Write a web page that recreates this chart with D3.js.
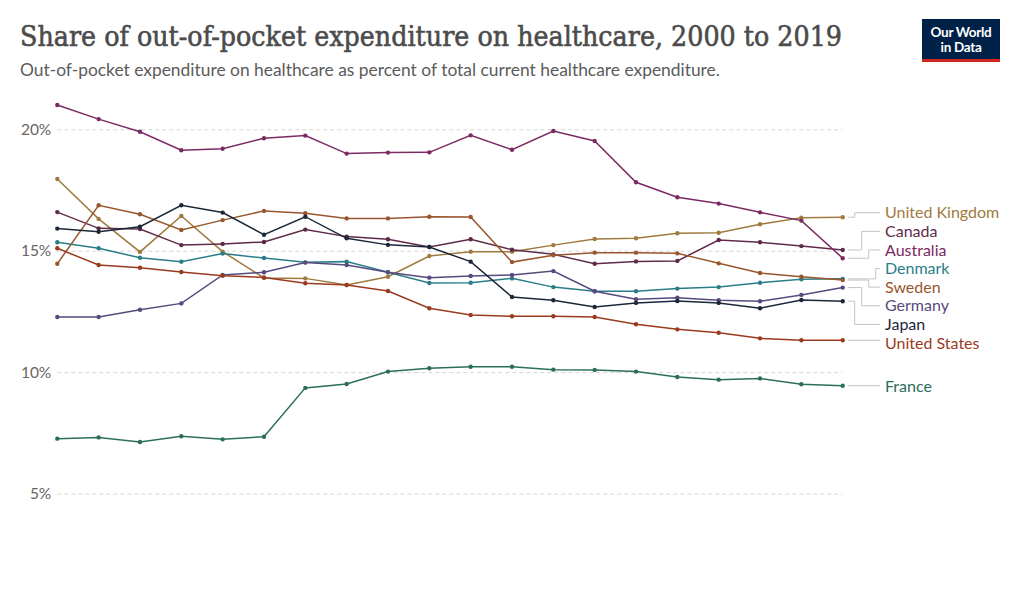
<!DOCTYPE html>
<html>
<head>
<meta charset="utf-8">
<script src="https://cdn.jsdelivr.net/npm/d3@7"></script>
<style>
  body { margin: 0; background: #fff; }
  svg { font-family: Lato, "Noto Sans", sans-serif; }
</style>
</head>
<body>
<div class="box"></div>
<script>
// DATA
const years = [2000, 2001, 2002, 2003, 2004, 2005, 2006, 2007, 2008, 2009,
               2010, 2011, 2012, 2013, 2014, 2015, 2016, 2017, 2018, 2019];

const countries = ['United Kingdom', 'Canada', 'Australia', 'Denmark', 'Sweden',
                   'Germany', 'Japan', 'United States', 'France'];

const unitedKingdom = [17.95, 16.31, 14.95, 16.43, 14.96, 13.88, 13.86, 13.59, 13.93, 14.78,
                       14.96, 14.96, 15.23, 15.48, 15.51, 15.72, 15.74, 16.09, 16.36, 16.38];
const canada = [16.59, 15.92, 15.89, 15.23, 15.28, 15.36, 15.87, 15.58, 15.47, 15.15,
                15.47, 15.04, 14.85, 14.46, 14.56, 14.58, 15.44, 15.35, 15.19, 15.03];
const australia = [21.0, 20.42, 19.90, 19.14, 19.20, 19.63, 19.74, 19.00, 19.04, 19.05,
                   19.75, 19.16, 19.93, 19.52, 17.82, 17.20, 16.94, 16.58, 16.24, 14.69];
const denmark = [15.35, 15.10, 14.71, 14.55, 14.88, 14.70, 14.52, 14.55, 14.11, 13.67,
                 13.68, 13.86, 13.50, 13.33, 13.33, 13.44, 13.50, 13.68, 13.82, 13.84];
const sweden = [14.46, 16.87, 16.50, 15.85, 16.26, 16.64, 16.54, 16.33, 16.33, 16.40,
                16.39, 14.53, 14.81, 14.92, 14.92, 14.89, 14.48, 14.08, 13.93, 13.79];
const germany = [12.27, 12.27, 12.57, 12.83, 14.00, 14.11, 14.51, 14.41, 14.11, 13.89,
                 13.96, 14.00, 14.16, 13.33, 13.00, 13.06, 12.96, 12.92, 13.18, 13.48];
const japan = [15.91, 15.78, 15.99, 16.87, 16.57, 15.66, 16.40, 15.51, 15.24, 15.15,
               14.55, 13.09, 12.96, 12.68, 12.85, 12.93, 12.85, 12.63, 12.97, 12.92];
const unitedStates = [15.10, 14.41, 14.30, 14.12, 13.97, 13.90, 13.66, 13.59, 13.34, 12.63,
                      12.35, 12.30, 12.30, 12.27, 11.97, 11.76, 11.62, 11.39, 11.31, 11.31];
const france = [7.26, 7.31, 7.12, 7.36, 7.23, 7.34, 9.35, 9.51, 10.02, 10.16,
                10.22, 10.22, 10.10, 10.09, 10.02, 9.80, 9.69, 9.74, 9.50, 9.44];

const yTicks = [5, 10, 15, 20];

// colours per country (same order as countries)
const colors = ['#a07a3e', '#5e2a48', '#7c2a62', '#2a7d88', '#98562c',
                '#564a7e', '#1c2739', '#9a3b1e', '#2b6e5d'];

const values = [unitedKingdom, canada, australia, denmark, sweden,
                germany, japan, unitedStates, france];

const series = countries.map((name, i) => ({
  name: name,
  color: colors[i],
  points: years.map((yr, j) => ({year: yr, value: values[i][j]}))
}));

// SETUP
const width = 1020, height = 600;
const svg = d3.select('.box')
              .append('svg')
              .attr('width', width)
              .attr('height', height);

const x = d3.scaleLinear()
            .domain([2000, 2019])
            .range([57.3, 842.7]);

const y = d3.scaleLinear()
            .domain([5, 20])
            .range([493.5, 129.3]);

// title + subtitle
svg.append('text')
   .attr('x', 20)
   .attr('y', 46)
   .attr('textLength', 822)
   .attr('lengthAdjust', 'spacingAndGlyphs')
   .style('font-family', '"DejaVu Serif", "Liberation Serif", serif')
   .style('font-size', '27px')
   .style('fill', '#4b4b4b')
   .style('stroke', '#4b4b4b')
   .style('stroke-width', 0.6)
   .text('Share of out-of-pocket expenditure on healthcare, 2000 to 2019');

svg.append('text')
   .attr('x', 20)
   .attr('y', 76)
   .style('font-size', '17.4px')
   .style('fill', '#5b5b5b')
   .text('Out-of-pocket expenditure on healthcare as percent of total current healthcare expenditure.');

// logo
const logo = svg.append('g');
logo.append('rect')
    .attr('x', 922).attr('y', 19)
    .attr('width', 78).attr('height', 43)
    .attr('fill', '#002147');
logo.append('rect')
    .attr('x', 922).attr('y', 59)
    .attr('width', 78).attr('height', 3)
    .attr('fill', '#ce261e');
logo.selectAll('text.logo')
    .data(['Our World', 'in Data'])
    .enter()
    .append('text')
    .attr('class', 'logo')
    .attr('x', 961)
    .attr('y', (d, i) => 37 + i * 15)
    .attr('text-anchor', 'middle')
    .style('font-size', '13.5px')
    .style('font-weight', 700)
    .style('letter-spacing', '-0.3px')
    .style('fill', '#fff')
    .text(d => d);

// y axis with dashed grid lines
const axisY = d3.axisLeft(y)
                .tickValues(yTicks)
                .tickFormat(d => d + '%')
                .tickSize(-(x.range()[1] - x.range()[0]))
                .tickPadding(6);

const groupY = svg.append('g')
                  .attr('transform', `translate(${x.range()[0]}, 0)`)
                  .call(axisY);
groupY.select('.domain').remove();
groupY.selectAll('line')
      .attr('stroke', '#d6d6d6')
      .attr('stroke-dasharray', '4,3');
groupY.selectAll('text')
      .style('font-family', 'Lato, sans-serif')
      .style('font-size', '15.5px')
      .style('fill', '#666');

// lines
const line = d3.line()
               .x(d => x(d.year))
               .y(d => y(d.value));

const lines = svg.append('g');
const country = lines.selectAll('g')
                     .data(series)
                     .enter()
                     .append('g');

country.append('path')
       .attr('d', d => line(d.points))
       .attr('fill', 'none')
       .attr('stroke', d => d.color)
       .attr('stroke-width', 1.5);

country.selectAll('circle')
       .data(d => d.points.map(p => ({...p, color: d.color})))
       .enter()
       .append('circle')
       .attr('cx', d => x(d.year))
       .attr('cy', d => y(d.value))
       .attr('r', 2.2)
       .attr('fill', d => d.color);

// end labels: spread overlapping labels into clusters
const gap = 18.6;
const labels = series.map(s => ({
  name: s.name,
  color: s.color,
  target: y(s.points[s.points.length - 1].value)
})).sort((a, b) => a.target - b.target);

let clusters = labels.map(l => ({items: [l], top: l.target}));
let merged = true;
while (merged) {
  merged = false;
  for (let i = 0; i < clusters.length - 1; i++) {
    const a = clusters[i], b = clusters[i + 1];
    if (a.top + a.items.length * gap > b.top) {
      const items = a.items.concat(b.items);
      const mean = d3.mean(items, d => d.target);
      clusters.splice(i, 2, {items: items, top: mean - (items.length - 1) * gap / 2});
      merged = true;
      break;
    }
  }
}
clusters.forEach(c => c.items.forEach((l, i) => { l.ly = c.top + i * gap + 1.2; }));

// elbow position of connectors
const bent = labels.filter(l => Math.abs(l.ly - l.target) > 3.5);
const up = bent.filter(l => l.ly < l.target);
const down = bent.filter(l => l.ly > l.target).reverse();
up.forEach((l, i) => { l.k = i + 1; });
down.forEach((l, i) => { l.k = i + 1; });

const lx0 = x.range()[1] + 5, lx1 = 880, labelX = 885;
const labelGroup = svg.append('g');

labelGroup.selectAll('path')
          .data(labels)
          .enter()
          .append('path')
          .attr('d', d => {
            if (!d.k) return `M${lx0},${d.target}H${lx1}`;
            const ex = lx0 + 7 * d.k;
            return `M${lx0},${d.target}H${ex}V${d.ly}H${lx1}`;
          })
          .attr('fill', 'none')
          .attr('stroke', '#c4c4c4')
          .attr('stroke-width', 1);

labelGroup.selectAll('text')
          .data(labels)
          .enter()
          .append('text')
          .attr('x', labelX)
          .attr('y', d => d.ly)
          .attr('dy', '0.35em')
          .style('font-size', '16px')
          .style('fill', d => d.color)
          .text(d => d.name);
</script>
</body>
</html>
